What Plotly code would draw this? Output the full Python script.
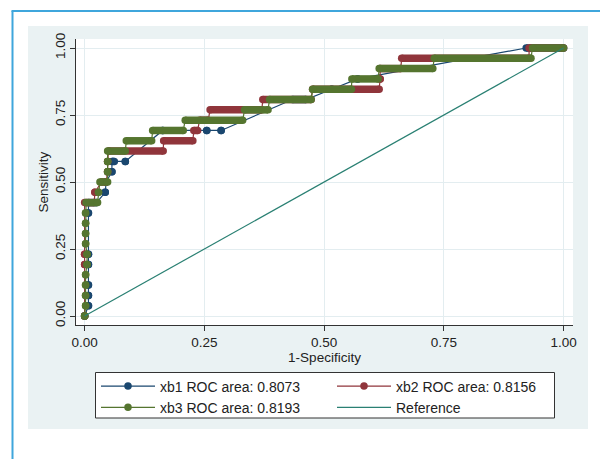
import plotly.graph_objects as go

# ---- data (sensitivity level, FPR at start / end of each ROC run) ----
xb1_sens = [0.0, 0.0385, 0.0769, 0.1154, 0.1923, 0.2308, 0.3846, 0.4231, 0.4615, 0.5, 0.5385,
            0.5769, 0.5769, 0.6923, 0.6923, 0.6923, 0.8077, 0.8462, 0.8846, 1.0]
xb1_fpr_lo = [0.0, 0.008, 0.008, 0.008, 0.008, 0.008, 0.008, 0.008, 0.043, 0.045, 0.057,
              0.057, 0.085, 0.163, 0.255, 0.285, 0.434, 0.516, 0.570, 0.922]
xb1_fpr_hi = [0.0, 0.008, 0.008, 0.008, 0.008, 0.008, 0.008, 0.025, 0.043, 0.045, 0.057,
              0.062, 0.085, 0.163, 0.255, 0.285, 0.462, 0.516, 0.570, 1.0]

xb2_sens = [0.0, 0.1923, 0.2308, 0.4231, 0.4615, 0.5, 0.5385, 0.5769, 0.6154, 0.6538, 0.6923,
            0.7308, 0.7692, 0.8077, 0.8462, 0.8846, 0.9231, 0.9615, 1.0]
xb2_fpr_lo = [0.0, 0.0, 0.0, 0.0, 0.0215, 0.035, 0.048, 0.048, 0.050, 0.165, 0.228,
              0.240, 0.262, 0.372, 0.476, 0.617, 0.617, 0.662, 0.928]
xb2_fpr_hi = [0.0, 0.0, 0.0, 0.020, 0.0215, 0.045, 0.048, 0.048, 0.164, 0.226, 0.236,
              0.258, 0.370, 0.473, 0.615, 0.617, 0.660, 0.928, 1.0]

xb3_sens = [0.0, 0.0385, 0.0769, 0.1154, 0.1538, 0.1923, 0.2308, 0.2692, 0.3077, 0.3462, 0.3846,
            0.4231, 0.4615, 0.5, 0.5385, 0.5769, 0.6154, 0.6538, 0.6923, 0.7308, 0.7692,
            0.8077, 0.8462, 0.8846, 0.9231, 0.9615, 1.0]
xb3_fpr_lo = [0.0, 0.002, 0.002, 0.002, 0.002, 0.005, 0.005, 0.002, 0.002, 0.002, 0.002,
              0.003, 0.029, 0.032, 0.048, 0.048, 0.048, 0.087, 0.142, 0.210, 0.334,
              0.386, 0.476, 0.558, 0.615, 0.730, 0.935]
xb3_fpr_hi = [0.0, 0.002, 0.002, 0.002, 0.002, 0.005, 0.005, 0.002, 0.002, 0.002, 0.002,
              0.027, 0.029, 0.048, 0.048, 0.048, 0.085, 0.140, 0.206, 0.330, 0.383,
              0.473, 0.557, 0.613, 0.727, 0.932, 1.0]

ref_x = [0.0, 1.0]
ref_y = [0.0, 1.0]

series_names = ["xb1 ROC area: 0.8073", "xb2 ROC area: 0.8156", "xb3 ROC area: 0.8193"]
tick_vals = [0.0, 0.25, 0.5, 0.75, 1.0]
tick_text = ["0.00", "0.25", "0.50", "0.75", "1.00"]

# ---- styling ----
C_NAVY = "#1a476f"
C_MAROON = "#90353b"
C_GREEN = "#55752f"
C_TEAL = "#2a8073"
FONT = "Liberation Sans, Arial, sans-serif"
MS = 7.5

fig = go.Figure()


def add_curve(name, color, sens, lo, hi):
    px, py, bx, by = [], [], [], []
    for s, a, b in zip(sens, lo, hi):
        px += [a, b]
        py += [s, s]
        if b > a:
            bx += [a, b, None]
            by += [s, s, None]
    fig.add_trace(go.Scatter(x=bx, y=by, mode="lines", line=dict(color=color, width=MS),
                             showlegend=False, hoverinfo="skip"))
    fig.add_trace(go.Scatter(x=px, y=py, mode="lines+markers", name=name,
                             line=dict(color=color, width=1.2),
                             marker=dict(color=color, size=MS, line=dict(width=0))))


add_curve(series_names[0], C_NAVY, xb1_sens, xb1_fpr_lo, xb1_fpr_hi)
add_curve(series_names[1], C_MAROON, xb2_sens, xb2_fpr_lo, xb2_fpr_hi)
add_curve(series_names[2], C_GREEN, xb3_sens, xb3_fpr_lo, xb3_fpr_hi)
fig.add_trace(go.Scatter(x=ref_x, y=ref_y, mode="lines", name="Reference",
                         line=dict(color=C_TEAL, width=1.2)))

# plot area: x 76..573 px, y 39..325 px
W, H = 600, 459
L, R, T, B = 76, 27, 39, 134
pw, ph = W - L - R, H - T - B


def pxx(p):
    return (p - L) / pw


def pxy(p):
    return (H - B - p) / ph


shapes = [
    dict(type="rect", xref="paper", yref="paper", x0=pxx(28), x1=pxx(588), y0=pxy(429), y1=pxy(26),
         fillcolor="#eaf2f3", line=dict(width=0), layer="below"),
    dict(type="rect", xref="paper", yref="paper", x0=0, x1=1, y0=0, y1=1,
         fillcolor="white", line=dict(width=0), layer="below"),
    dict(type="rect", xref="paper", yref="paper", x0=pxx(95.5), x1=pxx(554.5), y0=pxy(418), y1=pxy(372.5),
         fillcolor="white", line=dict(color="#333333", width=1), layer="below"),
    dict(type="line", xref="paper", yref="paper", x0=pxx(12.5), x1=pxx(12.5), y0=pxy(11), y1=pxy(462),
         line=dict(color="#3fa6dc", width=2)),
    dict(type="line", xref="paper", yref="paper", x0=pxx(11.5), x1=pxx(603), y0=pxy(11), y1=pxy(11),
         line=dict(color="#3fa6dc", width=2)),
]

axis_common = dict(
    tickvals=tick_vals, ticktext=tick_text, showline=True, linecolor="#333333", linewidth=1,
    ticks="outside", ticklen=5, tickcolor="#333333", tickwidth=1,
    showgrid=True, gridcolor="#e3edf0", gridwidth=1, zeroline=False,
    tickfont=dict(family=FONT, size=13.5, color="#222222"),
)

fig.update_layout(
    width=W, height=H,
    margin=dict(l=L, r=R, t=T, b=B, autoexpand=False),
    paper_bgcolor="white", plot_bgcolor="white",
    font=dict(family=FONT, size=13.5, color="#222222"),
    shapes=shapes,
    xaxis=dict(range=[-0.018, 1.0197],
               title=dict(text="1-Specificity", standoff=1, font=dict(family=FONT, size=13.5)),
               **axis_common),
    yaxis=dict(range=[-0.0336, 1.0336], tickangle=-90,
               title=dict(text="Sensitivity", standoff=0, font=dict(family=FONT, size=13.5)),
               **axis_common),
    legend=dict(orientation="h", x=pxx(96), y=pxy(370.5), xanchor="left", yanchor="top",
                bgcolor="rgba(0,0,0,0)", borderwidth=0,
                font=dict(family=FONT, size=14, color="#222222"),
                itemwidth=54, entrywidth=167, entrywidthmode="pixels", traceorder="normal"),
    showlegend=True,
)

fig.write_html("out.html", post_script="document.body.style.margin='0';",
               config={"displayModeBar": False})
